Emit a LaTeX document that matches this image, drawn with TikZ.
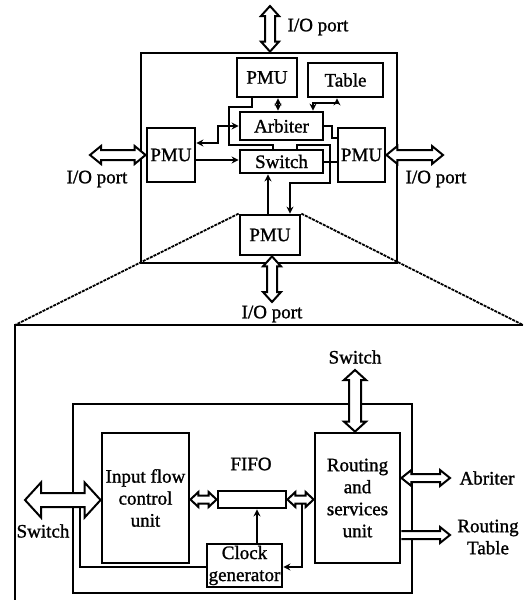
\documentclass[tikz,border=0pt]{standalone}
\usepackage{fontspec}
\setmainfont{Liberation Serif}[FakeBold=1.2]
\usetikzlibrary{calc,arrows.meta}
\tikzset{
 box/.style={draw, line width=2.8pt, inner sep=0pt, align=center},
 frame/.style={line width=2.6pt},
 conn/.style={line width=2.3pt},
 tip/.style={-{Stealth[length=7pt,width=7pt]}},
 tips/.style={{Stealth[length=7pt,width=7pt]}-{Stealth[length=7pt,width=7pt]}},
 harr/.style={draw, fill=white, line width=2pt, line join=miter},
 lbl/.style={inner sep=0pt, align=center},
 guide/.style={line width=1.8pt, dash pattern=on 3pt off 1pt},
}
% hollow double-headed arrow: from, to, shaft half width, head half width, head length
\newcommand\hdbl[5]{\draw[harr] let \p1=(#1), \p2=(#2), \n1={atan2(\y2-\y1,\x2-\x1)}, \n2={veclen(\x2-\x1,\y2-\y1)} in [shift={(\p1)}, rotate=\n1]
 (0pt,0pt) -- (#5pt,#4pt) -- (#5pt,#3pt) -- ({\n2-#5pt},#3pt) -- ({\n2-#5pt},#4pt) -- (\n2,0pt) -- ({\n2-#5pt},-#4pt) -- ({\n2-#5pt},-#3pt) -- (#5pt,-#3pt) -- (#5pt,-#4pt) -- cycle;}
% hollow single-headed arrow
\newcommand\hsgl[5]{\draw[harr] let \p1=(#1), \p2=(#2), \n1={atan2(\y2-\y1,\x2-\x1)}, \n2={veclen(\x2-\x1,\y2-\y1)} in [shift={(\p1)}, rotate=\n1]
 (0pt,#3pt) -- ({\n2-#5pt},#3pt) -- ({\n2-#5pt},#4pt) -- (\n2,0pt) -- ({\n2-#5pt},-#4pt) -- ({\n2-#5pt},-#3pt) -- (0pt,-#3pt);}
\begin{document}
\begin{tikzpicture}[x=1pt, y=-1pt, font=\fontsize{19}{22}\selectfont]
\clip (0,0) rectangle (523,600);
\fill[white] (0,0) rectangle (523,600);

% ---------- upper diagram ----------
\node[box, minimum width=256, minimum height=210] (outer) at (269,158) {};
\node[box, minimum width=60, minimum height=39] (pmuT) at (267,77.5) {PMU};
\node[box, minimum width=75, minimum height=34] (table) at (345.5,80) {Table};
\node[box, minimum width=83, minimum height=28] (arb) at (281.5,126) {Arbiter};
\node[box, minimum width=83, minimum height=23] (sw) at (281.5,161.5) {Switch};
\node[box, minimum width=48, minimum height=54] (pmuL) at (171,155) {PMU};
\node[box, minimum width=47, minimum height=54] (pmuR) at (361.5,155) {PMU};
\node[box, minimum width=60, minimum height=40] (pmuB) at (270,235) {PMU};

% internal connectors
\draw[conn,tips] (pmuT.south -| 278,0) -- (arb.north -| 278,0);
\draw[conn,tips] (table.south -| 337,0) -- (337,103) -- (313,103) -- (arb.north -| 313,0);
\draw[conn] (pmuT.south -| 252,0) -- (252,107) -- (229,107) -- (229,145) -- (273,145) -- (sw.north -| 273,0);
\draw[conn,tip] (sw.north -| 297,0) -- (297,145) -- (330,145) -- (330,183) -- (290,183) -- (pmuB.north -| 290,0);
\draw[conn,tips] (pmuL.east |- 0,143) -- (218,143) -- (218,126) -- (arb.west);
\draw[conn,tip] (pmuL.east |- 0,160) -- (sw.west |- 0,160);
\draw[conn] (arb.east) -- (332,126) -- (332,138) -- (pmuR.west |- 0,138);
\draw[conn] (sw.east |- 0,162) -- (pmuR.west |- 0,162);
\draw[conn,tip] (pmuB.north -| 268,0) -- (sw.south -| 268,0);

% I/O ports
\coordinate (ioT) at (270,6);
\coordinate (ioL) at (90,155);
\coordinate (ioR) at (443,155);
\coordinate (ioB) at (272,302);
\hdbl{ioT}{outer.north -| ioT}{5}{9}{10}
\hdbl{ioL}{pmuL.west}{5}{9}{11}
\hdbl{pmuR.east}{ioR}{5}{9}{11}
\hdbl{pmuB.south -| ioB}{ioB}{5}{9}{10}
\node[lbl] (lT) at (318,27) {I/O port};
\node[lbl] (lL) at (97,179) {I/O port};
\node[lbl] (lR) at (436,179) {I/O port};
\node[lbl] (lB) at (272,314) {I/O port};

% ---------- zoom guides ----------
\coordinate (bigTL) at (15,325);
\coordinate (bigTR) at (523,325);
\coordinate (bigBL) at (15,600);
\draw[guide] (pmuB.north west) -- (bigTL);
\draw[guide] (pmuB.north east) -- (bigTR);
\draw[frame] (bigTR) -- (bigTL) -- (bigBL);

% ---------- lower diagram ----------
\node[box, minimum width=339, minimum height=189] (inner) at (242.5,498.5) {};
\node[box, minimum width=87, minimum height=130] (ifc) at (145.5,498) {Input flow\\control\\unit};
\node[box, minimum width=85, minimum height=130] (rsu) at (357.5,498) {Routing\\and\\services\\unit};
\node[box, minimum width=68, minimum height=17] (fifo) at (252,499.5) {};
\node[lbl] (fifoL) at (251,464) {FIFO};
\node[box, minimum width=75, minimum height=43] (clk) at (244.5,565.5) {Clock\\generator};

\draw[conn,tip] (clk.north -| 257,0) -- (fifo.south -| 257,0);
\coordinate (tapR) at (302,502);
\coordinate (tapL) at (80,506);
\draw[conn,tip] (tapR) -- (302,567) -- (clk.east |- 0,567);
\draw[conn] (tapL) -- (80,567) -- (clk.west |- 0,567);

\coordinate (swT) at (355,370);
\coordinate (swL) at (25,500);
\coordinate (abr) at (450,478);
\coordinate (rtab) at (450,535);
\hdbl{swT}{rsu.north -| swT}{6}{11}{10}
\hdbl{ifc.east |- fifo.west}{fifo.west}{4}{7.5}{8}
\hdbl{fifo.east}{rsu.west |- fifo.east}{4}{7.5}{8}
\hdbl{rsu.east |- abr}{abr}{4}{8}{10}
\hsgl{rsu.east |- rtab}{rtab}{4}{8}{10}
\hdbl{swL}{ifc.west |- swL}{7}{17.5}{16}

\node[lbl] (lSwT) at (355,357) {Switch};
\node[lbl] (lSwL) at (43,531) {Switch};
\node[lbl] (lAbr) at (487,478) {Abriter};
\node[lbl] (lRT) at (488,537) {Routing\\Table};
\end{tikzpicture}
\end{document}
